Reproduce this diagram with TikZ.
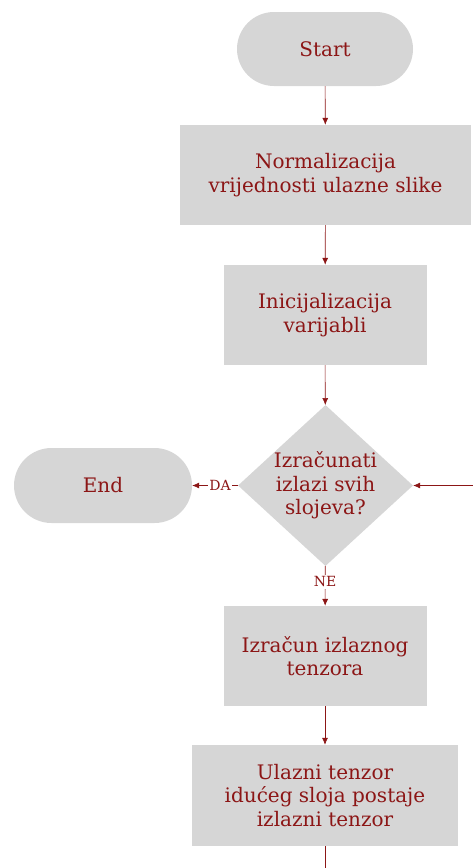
\documentclass[tikz,border=0pt]{standalone}
\usepackage{fontspec}
\setmainfont{DejaVu Serif}
\usetikzlibrary{shapes.geometric,shapes.misc,arrows.meta}
\definecolor{ink}{RGB}{140,22,22}
\definecolor{boxgray}{RGB}{214,214,214}
\tikzset{
  base/.style={fill=boxgray, draw=none, text=ink, align=center, inner sep=0pt,
    font=\fontsize{20}{23.5}\selectfont},
  terminal/.style={base, rounded rectangle, minimum width=176pt, minimum height=74pt},
  process/.style={base, rectangle, minimum height=100pt},
  decision/.style={base, diamond, minimum width=175pt, minimum height=161pt},
  caption/.style={text=ink, align=center, inner sep=0pt, font=\fontsize{20}{23.5}\selectfont},
  flow/.style={draw=ink, line width=0.6pt, -{Latex[length=7pt,width=6pt]}},
  plain/.style={draw=ink, line width=0.6pt},
  edgelabel/.style={fill=white, text=ink, inner sep=1.5pt, font=\fontsize{14}{16}\selectfont}
}
\begin{document}
\begin{tikzpicture}[x=1pt,y=-1pt]
  \useasboundingbox (0,0) rectangle (473,868);
  \node[terminal] (start) at (325,49) {Start};
  \node[process, minimum width=291pt] (norm) at (325.5,175) {Normalizacija\\vrijednosti ulazne slike};
  \node[process, minimum width=203pt] (init) at (325,315) {Inicijalizacija\\varijabli};
  % decision shape kept at a fixed size, its question set on top
  \node[decision] (dec) at (325.5,485.5) {};
  \node[caption] (dectext) at (dec.center) {Izračunati\\izlazi svih\\slojeva?};
  \node[terminal, minimum width=178pt, minimum height=75pt] (end) at (103,485.5) {End};
  \node[process, minimum width=203pt] (calc) at (325,656) {Izračun izlaznog\\tenzora};
  \node[process, minimum width=266pt, minimum height=101pt] (next) at (325,795.5) {Ulazni tenzor\\idućeg sloja postaje\\izlazni tenzor};
  \coordinate (loopin) at (473,485.5);
  \coordinate (loopout) at (325,868);

  \draw[flow] (start) -- (norm);
  \draw[flow] (norm) -- (init);
  \draw[flow] (init) -- (dec);
  \draw[flow] (dec) -- node[edgelabel, pos=0.39] {DA} (end);
  \draw[flow] (dec) -- node[edgelabel, pos=0.4] {NE} (calc);
  \draw[flow] (calc) -- (next);
  \draw[plain] (next) -- (loopout);
  \draw[flow] (loopin) -- (dec);
\end{tikzpicture}
\end{document}
